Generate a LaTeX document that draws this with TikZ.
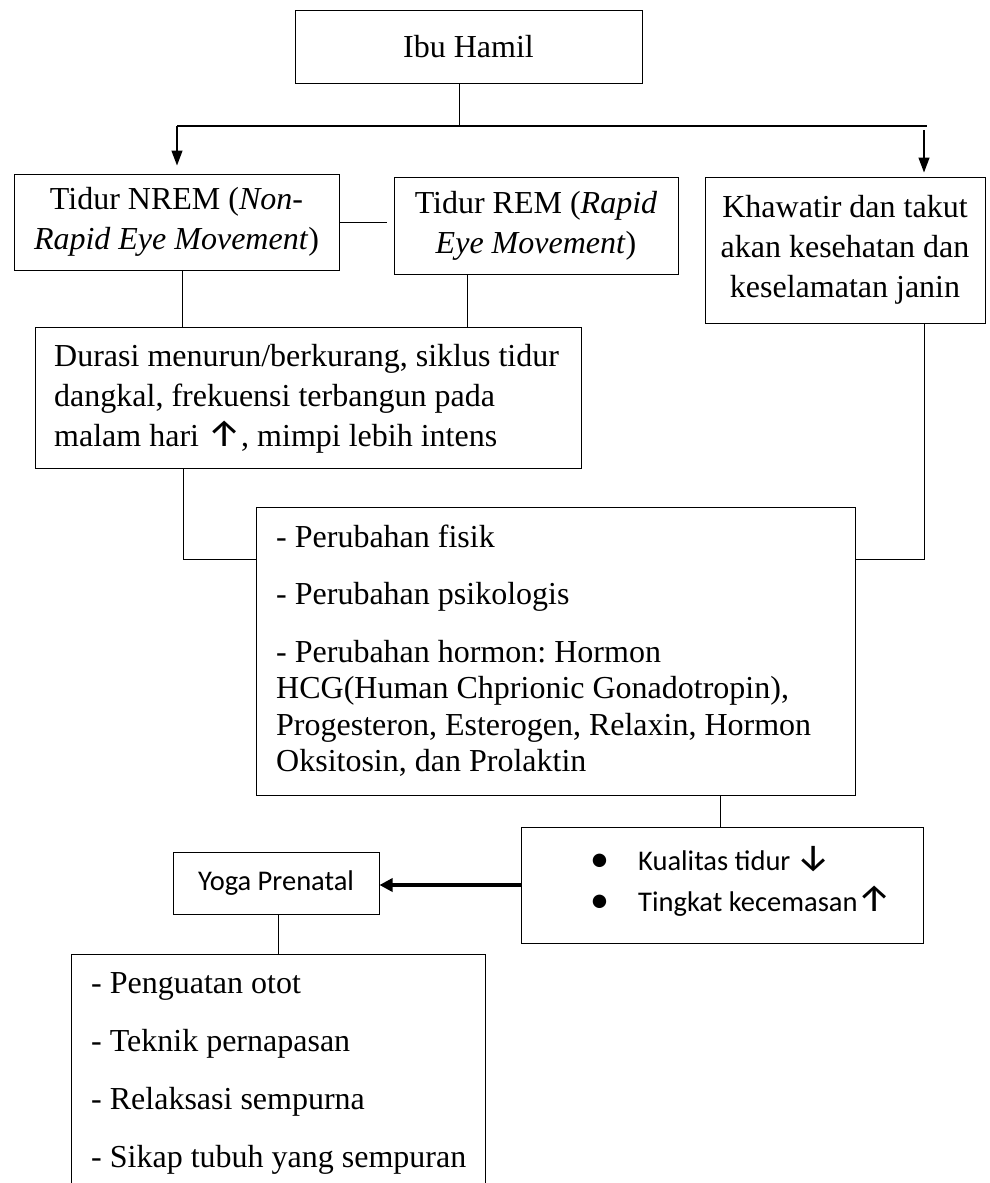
\documentclass[tikz,border=0pt]{standalone}
\usepackage{fontspec}
\setmainfont{Liberation Serif}
\newfontfamily\calib{Carlito}
\newfontfamily\arw{Fira Sans}
\newcommand{\uarr}{{\arw\fontsize{38}{38}\selectfont ↑}}
\newcommand{\darr}{{\arw\fontsize{38}{38}\selectfont ↓}}
\newcommand{\bull}{\raisebox{-1.5pt}{\calib\fontsize{38}{38}\selectfont •}}
\usetikzlibrary{arrows.meta}
\begin{document}
\frenchspacing
\begin{tikzpicture}[x=1pt,y=-1pt,
  box/.style={draw, line width=1pt, inner sep=0pt, rectangle, align=center,
              font=\fontsize{32}{40}\selectfont},
  conn/.style={line width=0.9pt},
  hline/.style={line width=1.4pt},
  arr/.style={line width=1.3pt, -{Triangle[length=15pt,width=11pt]}},
  bigarr/.style={line width=3.5pt, -{Triangle[length=13pt,width=13pt]}},
  txt/.style={inner sep=0pt, anchor=base west, font=\fontsize{32}{40}\selectfont},
  ctxt/.style={inner sep=0pt, anchor=base west, font=\calib\fontsize{28.5}{41}\selectfont},
]
\useasboundingbox (0,0) rectangle (989,1183);
\clip (0,0) rectangle (989,1183);

% boxes
\node[box, minimum width=347pt, minimum height=73pt] (ibu) at (468.5,46.5) {Ibu Hamil};
\node[box, minimum width=325pt, minimum height=96pt] (nrem) at (176.5,222)
  {Tidur NREM (\textit{Non-}\\\textit{Rapid Eye Movement})};
\node[box, minimum width=284pt, minimum height=97pt] (rem) at (536,225.5)
  {Tidur REM (\textit{Rapid}\\\textit{Eye Movement})};
\node[box, minimum width=280pt, minimum height=146pt] (kh) at (845,250)
  {Khawatir dan takut\\akan kesehatan dan\\keselamatan janin};
\node[box, minimum width=546pt, minimum height=141pt] (dur) at (308,397.5) {};
\node[box, minimum width=599pt, minimum height=288pt] (perub) at (555.5,651) {};
\node[box, minimum width=402pt, minimum height=116pt] (kual) at (722,885) {};
\node[box, minimum width=206pt, minimum height=62pt, font=\calib\fontsize{28.5}{41}\selectfont] (yoga) at (276,883) {Yoga Prenatal};
\node[box, minimum width=414pt, minimum height=250pt] (bot) at (278,1079) {};

% texts inside left-aligned boxes
\node[txt] (tdur) at (54,366) {\begin{tabular}[t]{@{}l@{}}
Durasi menurun/berkurang, siklus tidur\\
dangkal, frekuensi terbangun pada\\
malam hari \uarr, mimpi lebih intens\end{tabular}};
\node[txt, font=\fontsize{32}{36.5}\selectfont] (tperub) at (276,547) {\begin{tabular}[t]{@{}l@{}}
- Perubahan fisik\\[21pt]
- Perubahan psikologis\\[21pt]
- Perubahan hormon: Hormon\\
HCG(Human Chprionic Gonadotropin),\\
Progesteron, Esterogen, Relaxin, Hormon\\
Oksitosin, dan Prolaktin\end{tabular}};
\node[ctxt] (tkual) at (590,870) {\begin{tabular}[t]{@{}l@{}}
\makebox[48pt][l]{\bull}Kualitas tidur \darr\\
\makebox[48pt][l]{\bull}Tingkat kecemasan\uarr\end{tabular}};
\node[txt, font=\fontsize{32}{36.5}\selectfont] (tbot) at (91,993) {\begin{tabular}[t]{@{}l@{}}
- Penguatan otot\\[21.8pt]
- Teknik pernapasan\\[21.8pt]
- Relaksasi sempurna\\[21.8pt]
- Sikap tubuh yang sempuran\end{tabular}};

% helper coordinates
\coordinate (hub) at (459,126);
\coordinate (hL) at (177,126);
\coordinate (hR) at (927,126);
\coordinate (hR2) at (924,130);
\coordinate (cNR) at (182,0);
\coordinate (cR) at (467,0);
\coordinate (cD) at (183,0);
\coordinate (cK) at (924,0);
\coordinate (cP) at (720,0);
\coordinate (cY) at (278,0);
\coordinate (jy) at (0,559);

% connectors
\draw[conn] (ibu.south -| hub) -- (hub);
\draw[hline] (hL) -- (hR);
\draw[arr, shorten >=8pt] (hL) -- (hL |- nrem.north);
\draw[arr, shorten >=4pt] (hR2) -- (hR2 |- kh.north);
\draw[conn, shorten >=7pt] (nrem.east) -- (nrem.east -| rem.west);
\draw[conn] (nrem.south -| cNR) -- (dur.north -| cNR);
\draw[conn] (rem.south -| cR) -- (dur.north -| cR);
\draw[conn] (dur.south -| cD) -- (jy -| cD) -- (jy -| perub.west);
\draw[conn] (kh.south -| cK) -- (jy -| cK) -- (jy -| perub.east);
\draw[conn] (perub.south -| cP) -- (kual.north -| cP);
\draw[bigarr] (kual.west) -- (kual.west -| yoga.east);
\draw[conn] (yoga.south -| cY) -- (bot.north -| cY);
\end{tikzpicture}
\end{document}
